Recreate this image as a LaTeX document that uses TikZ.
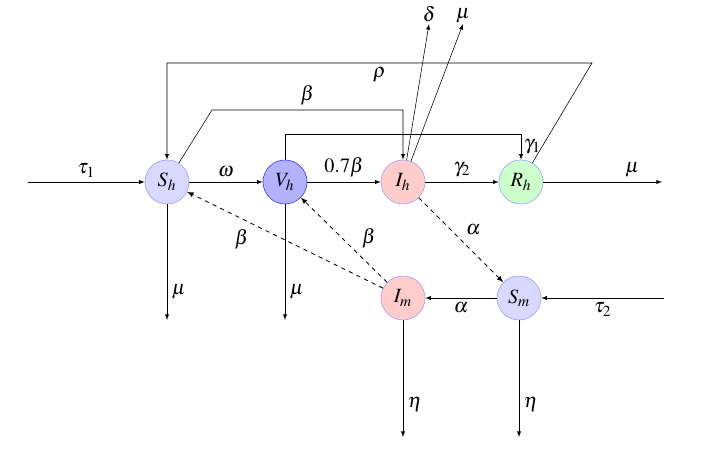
\documentclass[tikz,border=0pt]{standalone}
\usepackage{mathptmx}
\usetikzlibrary{arrows}

\tikzset{
    comp/.style={draw, circle, minimum size=1.1cm, inner sep=0pt},
    infl/.style={dashed, semithick},
}

\begin{document}
\begin{tikzpicture}[x=0.025cm, y=-0.025cm, >=latex, font=\Large]
        \useasboundingbox (0,0) rectangle (716,457);

        % compartments
        \node[comp, fill=blue!15, draw=blue!40] (Sh) at (167, 182) {$S_h$};
        \node[comp, fill=blue!30, draw=blue!80] (Vh) at (285, 182) {$V_h$};
        \node[comp, fill=red!20,  draw=blue!40] (Ih) at (403, 182) {$I_h$};
        \node[comp, fill=green!20, draw=blue!40] (Rh) at (521, 182) {$R_h$};
        \node[comp, fill=red!20,  draw=blue!40] (Im) at (403, 298) {$I_m$};
        \node[comp, fill=blue!15, draw=blue!40] (Sm) at (519, 298) {$S_m$};

        % free ends
        \coordinate (inSh)   at (28, 182);
        \coordinate (outRh)  at (662, 182);
        \coordinate (outSh)  at (167, 320);
        \coordinate (outVh)  at (285, 320);
        \coordinate (outIm)  at (403, 437);
        \coordinate (outSm)  at (519, 437);
        \coordinate (inSm)   at (664, 298);
        \coordinate (delIh)  at (429, 24);
        \coordinate (muIh)   at (463, 24);
        \coordinate (rho)    at (592, 63);
        \coordinate (bet)    at (212, 110);
        \coordinate (gam)    at (521, 134);

        \path[->]
            (inSh) edge node[above] {$\tau_1$} (Sh)
            (Sh) edge node[above] {$\omega$} (Vh)
                 edge node[pos=0.76, right] {$\mu$} (outSh)
            (Vh) edge node[above] {$0.7\beta$} (Ih)
                 edge node[pos=0.76, right] {$\mu$} (outVh)
            (Ih) edge node[above] {$\gamma_2$} (Rh)
                 edge node[pos=1, above, inner sep=1pt] {$\delta$} (delIh)
                 edge node[pos=1, above, inner sep=0.5pt] {$\mu$} (muIh)
            (Rh) edge node[pos=0.75, above] {$\mu$} (outRh)
            (inSm) edge node[below] {$\tau_2$} (Sm)
            (Sm) edge node[below] {$\alpha$} (Im)
                 edge node[pos=0.72, right] {$\eta$} (outSm)
            (Im) edge node[pos=0.72, right] {$\eta$} (outIm);

        \path[->, infl]
            (Ih) edge node[above right] {$\alpha$} (Sm)
            (Im) edge node[pos=0.66, below left] {$\beta$} (Sh)
                 edge node[pos=0.35, above right] {$\beta$} (Vh);

        \draw[->] (Rh) -- (rho) -| node[pos=0.25, below] {$\rho$} (Sh);
        \draw[->] (Sh) -- (bet) -| node[pos=0.25, above] {$\beta$} (Ih);
        \draw[->] (Vh) |- (gam) -- node[right, inner sep=2pt] {$\gamma_1$} (Rh);
    \end{tikzpicture}
\end{document}
